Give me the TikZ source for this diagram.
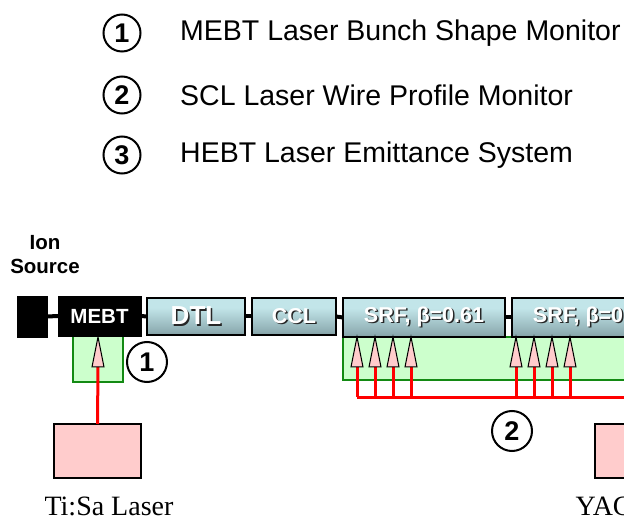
\documentclass[tikz,border=0pt]{standalone}
\usepackage{fontspec}
\setmainfont{Liberation Sans}
\newfontfamily\timesfont{Liberation Serif}
\usetikzlibrary{positioning}
\definecolor{tealtop}{HTML}{7A999E}
\definecolor{teallight}{HTML}{C2E5E9}
\definecolor{tealmid}{HTML}{8EADB2}
\definecolor{teallo}{HTML}{42565A}
\definecolor{laserpink}{HTML}{FFCCCC}
\definecolor{detgreen}{HTML}{CCFFCC}
\definecolor{detline}{HTML}{138A13}
\pgfdeclareverticalshading{tealshade}{100bp}{color(0bp)=(teallo); color(30bp)=(tealmid); color(62bp)=(teallight); color(80bp)=(teallight); color(92bp)=(tealmid); color(100bp)=(tealtop)}
\newcommand{\shtext}[1]{\leavevmode\rlap{\kern1.5pt\raisebox{-1.5pt}{\color{black!85}#1}}{\color{white}#1}}
\tikzset{
  cavity/.style={draw=black, line width=1.2pt, shading=tealshade, inner sep=0pt, outer sep=0pt,
    font=\bfseries\fontsize{21.5}{24}\selectfont},
  blackbox/.style={draw=black, fill=black, inner sep=0pt, outer sep=0pt, text=white,
    font=\bfseries\fontsize{20.5}{24}\selectfont},
  detbox/.style={draw=detline, line width=1.5pt, fill=detgreen, inner sep=0pt, outer sep=0pt},
  laserbox/.style={draw=black, line width=1.2pt, fill=laserpink, inner sep=0pt, outer sep=0pt},
  numcircle/.style={circle, draw=black, line width=2pt, inner sep=0pt, minimum size=37pt,
    font=\bfseries\fontsize{27}{28}\selectfont},
  legendtext/.style={anchor=west, inner sep=0pt, font=\fontsize{28.5}{32}\selectfont},
  laserlabel/.style={anchor=base, inner sep=0pt, font=\timesfont\fontsize{28}{32}\selectfont},
  beamline/.style={line width=4pt, black},
  laserline/.style={line width=3pt, red},
  pics/laserhead/.style={code={\draw[line width=1pt, fill=laserpink] (-6,30) -- (0,0) -- (6,30) -- cycle;}}
}
\begin{document}
\begin{tikzpicture}[x=1pt, y=-1pt]
\useasboundingbox (0,0) rectangle (624,521);
% legend
\foreach \n/\y/\txt in {1/33/MEBT Laser Bunch Shape Monitor, 2/95/SCL Laser Wire Profile Monitor, 3/155/HEBT Laser Emittance System} {
  \node[numcircle] (leg\n) at (122,\y) {\n};
  \node[legendtext] (legtxt\n) at (180,\y) {\txt};
}
\node[align=center, inner sep=0pt, font=\bfseries\fontsize{20.5}{24}\selectfont] (ionlbl) at (45,255) {Ion\\Source};
% detector regions
\node[detbox, minimum width=50pt, minimum height=46pt] (mebtdet) at (98,359) {};
\node[detbox, minimum width=357pt, minimum height=43pt] (scldet) at (521.5,358.5) {};
% linac
\node[blackbox, minimum width=30pt, minimum height=41pt] (src) at (32,316.5) {};
\node[blackbox, minimum width=83pt, minimum height=40pt] (mebt) at (99.5,316) {MEBT};
\node[cavity, minimum width=98pt, minimum height=37pt, font=\bfseries\fontsize{26}{28}\selectfont] (dtl) at (196,316.5) {\shtext{DTL}};
\node[cavity, minimum width=84pt, minimum height=37pt] (ccl) at (294,316.5) {\shtext{CCL}};
\node[cavity, minimum width=162pt, minimum height=39pt] (srfa) at (424,317.5) {\shtext{SRF, β=0.61}};
\node[cavity, minimum width=162pt, minimum height=39pt] (srfb) at (593,317.5) {\shtext{SRF, β=0.81}};
\foreach \a/\b in {src/mebt, mebt/dtl, dtl/ccl, ccl/srfa, srfa/srfb}
  \draw[beamline] (\a.east) -- (\b.west);
% lasers
\node[laserbox, minimum width=87pt, minimum height=54pt] (tisa) at (97.5,451) {};
\node[laserbox, minimum width=87pt, minimum height=54pt] (yag) at (638.5,451) {};
\node[laserlabel] (tisalbl) at (109,515.5) {Ti:Sa Laser};
\node[laserlabel] (yaglbl) at (639,515.5) {YAG Laser};
% MEBT laser
\coordinate (mbase) at (98,367);
\draw[laserline] (tisa.north) -- (mbase);
\pic at (98,337) {laserhead};
\node[numcircle, minimum size=40pt] (num1) at (147,362) {1};
% SCL laser wire
\coordinate (bus) at (357,397);
\coordinate (busend) at (yag.north |- bus);
\foreach \x [count=\i] in {357,375,393,411,516,534,552,570} {
  \coordinate (b\i) at (\x,367);
  \draw[laserline] (b\i) -- (b\i |- bus);
  \pic at (\x,337) {laserhead};
}
\draw[laserline] (b1 |- bus) -- (busend) -- (yag.north);
\node[numcircle, minimum size=40pt] (num2) at (512,431) {2};
\end{tikzpicture}
\end{document}
